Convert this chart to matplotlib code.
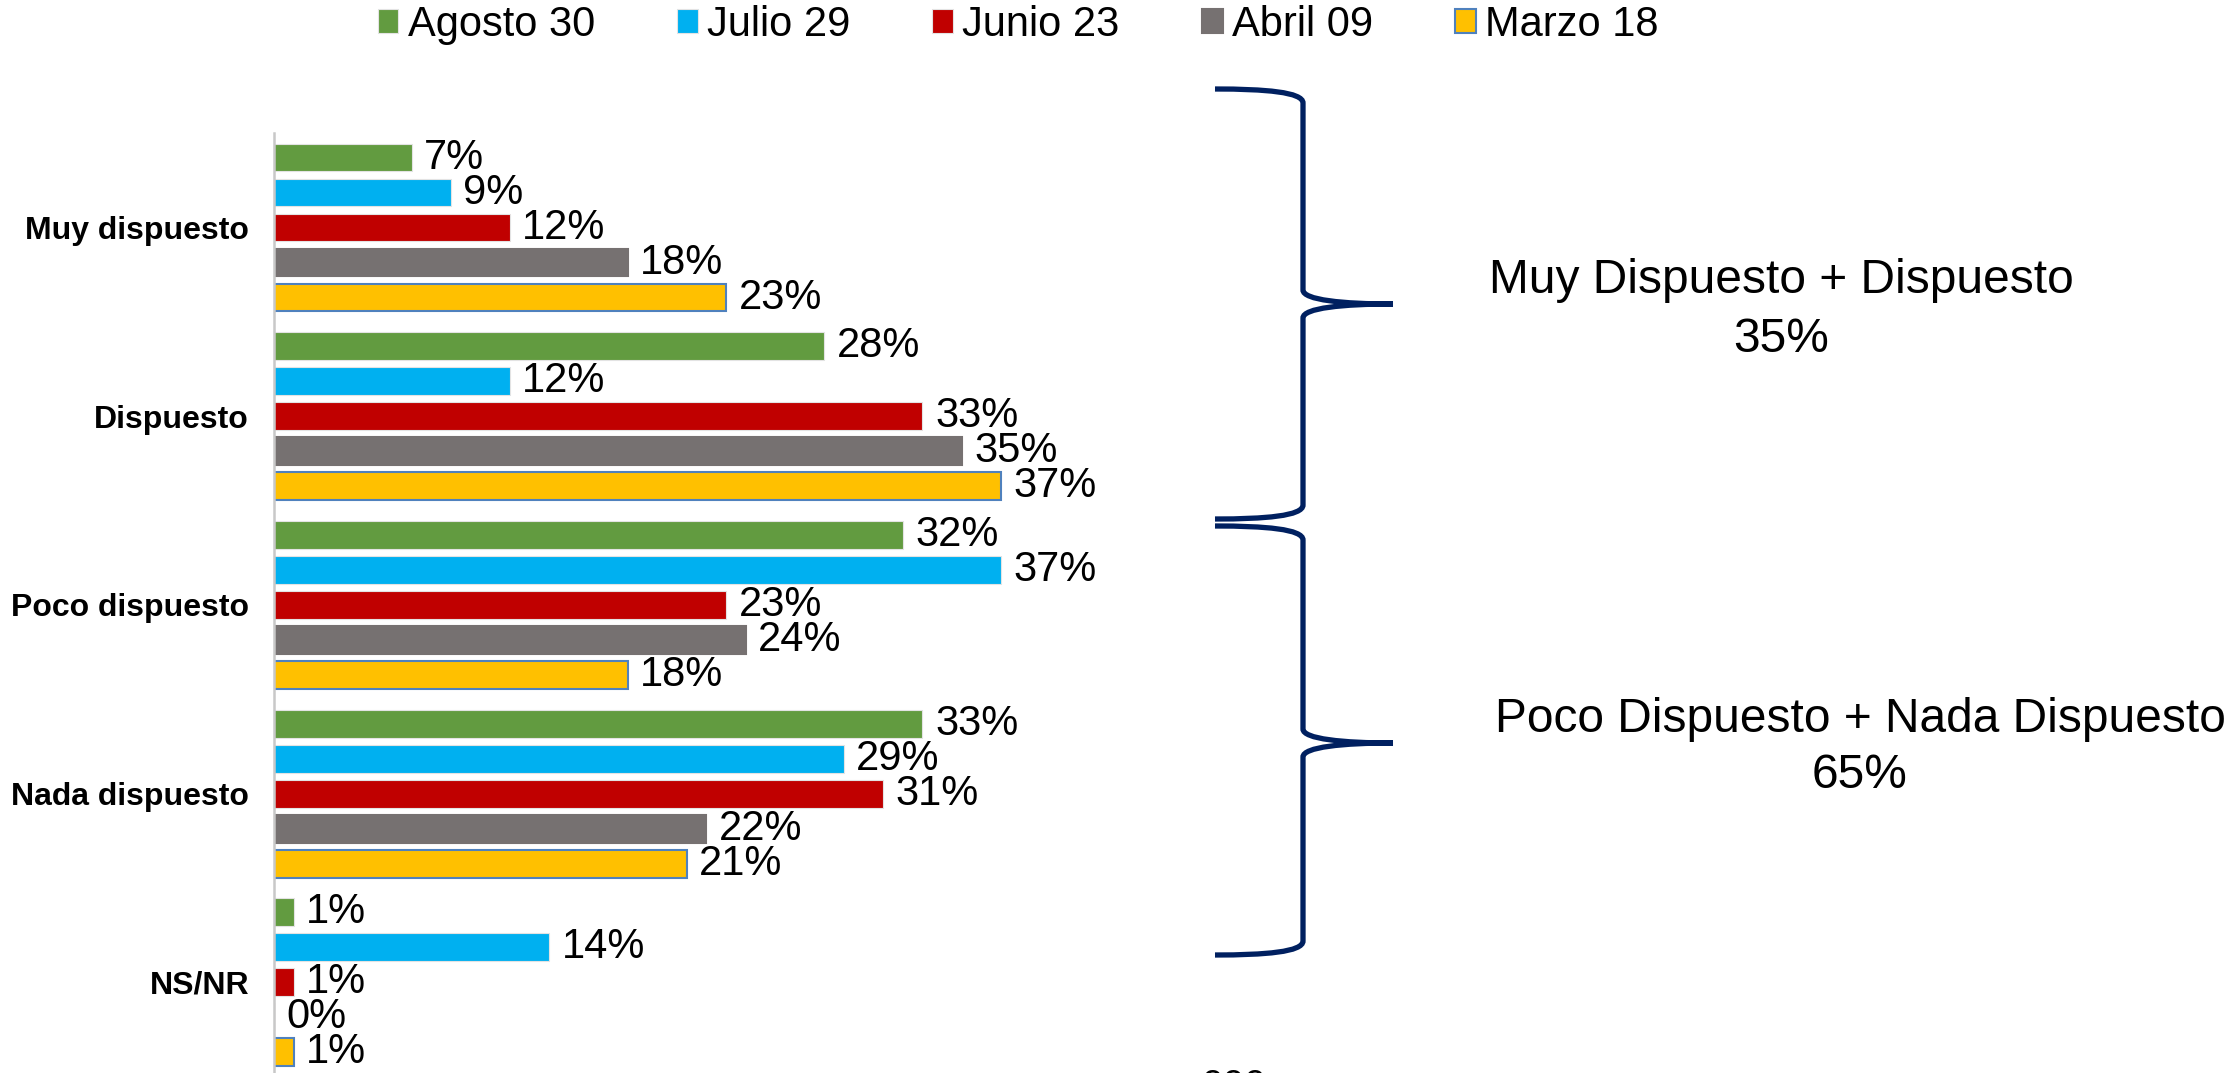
import matplotlib
matplotlib.use("Agg")
import matplotlib.pyplot as plt
from matplotlib.path import Path
from matplotlib.patches import PathPatch
from matplotlib.transforms import Affine2D
import numpy as np

plt.rcParams['font.family'] = ['Liberation Sans', 'DejaVu Sans']

categories = ['Muy dispuesto', 'Dispuesto', 'Poco dispuesto', 'Nada dispuesto', 'NS/NR']
series = ['Agosto 30', 'Julio 29', 'Junio 23', 'Abril 09', 'Marzo 18']
agosto = [7, 28, 32, 33, 1]
julio = [9, 12, 37, 29, 14]
junio = [12, 33, 23, 31, 1]
abril = [18, 35, 24, 22, 0]
marzo = [23, 37, 18, 21, 1]
values = [agosto, julio, junio, abril, marzo]

colors = ['#629B40', '#00B0F0', '#C00000', '#767171', '#FFC000']
edges = ['#E3E3E3', '#E3E3E3', '#E3E3E3', '#767171', '#4F81BD']

group_texts = ['Muy Dispuesto + Dispuesto', 'Poco Dispuesto + Nada Dispuesto']
group_totals = ['35%', '65%']

W, H = 2229, 1073
fig = plt.figure(figsize=(W / 100, H / 100), dpi=100)
# axes placed in pixels: left edge 274, top 133, one category = 188.7 px
ax = fig.add_axes([274 / W, 1 - 1076.7 / H, 982.5 / W, 943.5 / H])

slot = 0.1855
bh = 0.147
y = np.arange(len(categories))
for i, (name, vals) in enumerate(zip(series, values)):
    bars = ax.barh(y + (i - 2) * slot, vals, height=bh, color=colors[i],
                   edgecolor=edges[i], linewidth=1.5 if i >= 3 else 0.8,
                   label=name)
    ax.bar_label(bars, labels=[f'{v}%' for v in vals], padding=9,
                 fontsize=30, color='black')

ax.set_xlim(0, 50)
ax.set_ylim(len(categories) - 0.5, -0.5)
ax.set_yticks(y)
ax.set_yticklabels(categories, fontsize=23, fontweight='bold')
ax.tick_params(axis='y', length=0, pad=18)
ax.set_xticks([])
for s in ['top', 'right', 'bottom']:
    ax.spines[s].set_visible(False)
ax.spines['left'].set_color('#C8C8C8')
ax.spines['left'].set_linewidth(1.8)

handles, labels = ax.get_legend_handles_labels()
fig.legend(handles, labels, loc='center', bbox_to_anchor=(1018 / W, 1 - 25 / H),
           ncol=5, frameon=False, fontsize=30, handlelength=0.5,
           handleheight=0.52, handletextpad=0.22, columnspacing=1.97,
           borderaxespad=0, borderpad=0)

# braces, drawn in pixel coordinates of the figure
px = Affine2D().scale(1 / W, -1 / H).translate(0, 1) + fig.transFigure


def brace(x0, xm, xt, ytop, ytip, ybot):
    verts = [(x0, ytop), (x0 + 50, ytop), (xm, ytop + 3), (xm, ytop + 14),
             (xm, ytip - 14),
             (xm, ytip - 4), (xm + 40, ytip), (xt, ytip),
             (xm + 40, ytip), (xm, ytip + 4), (xm, ytip + 14),
             (xm, ybot - 14),
             (xm, ybot - 3), (x0 + 50, ybot), (x0, ybot)]
    codes = [Path.MOVETO, Path.CURVE4, Path.CURVE4, Path.CURVE4,
             Path.LINETO,
             Path.CURVE4, Path.CURVE4, Path.CURVE4,
             Path.CURVE4, Path.CURVE4, Path.CURVE4,
             Path.LINETO,
             Path.CURVE4, Path.CURVE4, Path.CURVE4]
    fig.add_artist(PathPatch(Path(verts, codes), facecolor='none',
                             edgecolor='#002060', linewidth=3.8,
                             transform=px))


brace(1215, 1303, 1393, 89, 304, 519)
brace(1215, 1303, 1393, 526, 743, 955)

fig.text(1781 / W, 1 - 293 / H, group_texts[0], fontsize=34.5, ha='center', va='baseline')
fig.text(1781 / W, 1 - 352 / H, group_totals[0], fontsize=34.5, ha='center', va='baseline')
fig.text(1860 / W, 1 - 732 / H, group_texts[1], fontsize=34.5, ha='center', va='baseline')
fig.text(1860 / W, 1 - 788 / H, group_totals[1], fontsize=34.5, ha='center', va='baseline')

# text cut off at the bottom edge of the slide
fig.text(1234 / W, 1 - 1097 / H, '000', fontsize=28, ha='center', va='baseline')

fig.savefig('out.png', dpi=100, facecolor='white')
